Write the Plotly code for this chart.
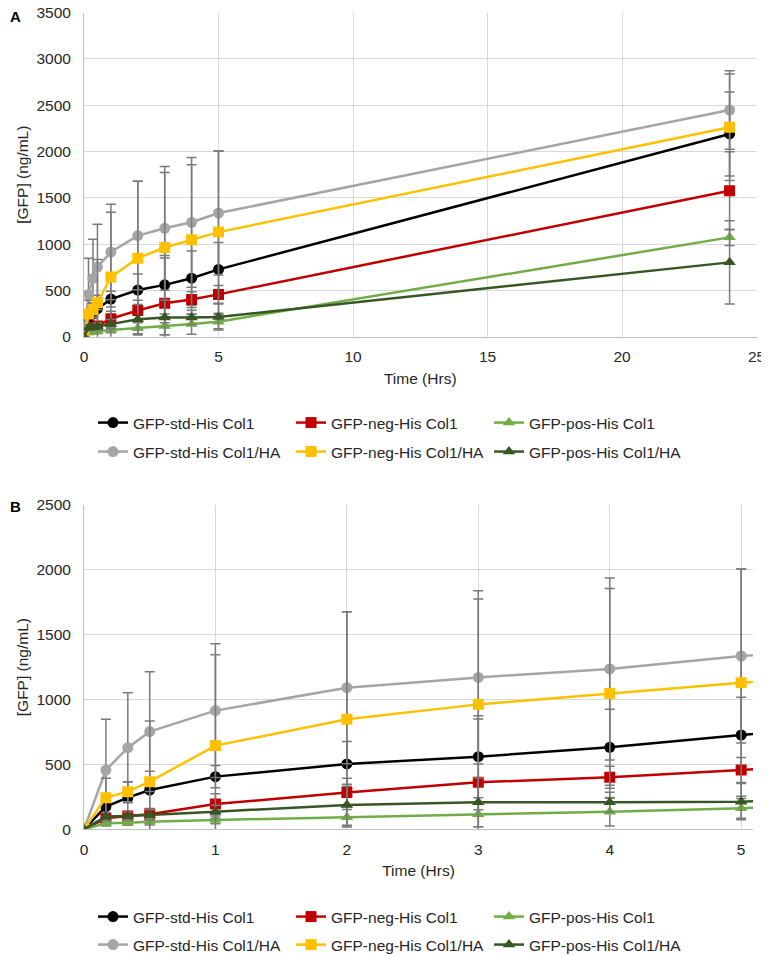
import plotly.graph_objects as go

# sampling times (hours)
time_hrs = [0, 1 / 6, 1 / 3, 0.5, 1, 2, 3, 4, 5, 24]

series_names = [
    "GFP-std-His Col1", "GFP-neg-His Col1", "GFP-pos-His Col1",
    "GFP-std-His Col1/HA", "GFP-neg-His Col1/HA", "GFP-pos-His Col1/HA",
]

# mean [GFP] (ng/mL)
std_col1 = [0, 175, 244, 303, 406, 504, 560, 632, 727, 2190]
neg_col1 = [0, 85, 103, 116, 195, 283, 362, 401, 457, 1577]
pos_col1 = [0, 46, 51, 59, 72, 92, 116, 136, 162, 1073]
std_col1_ha = [0, 457, 629, 753, 915, 1092, 1171, 1236, 1336, 2449]
neg_col1_ha = [0, 244, 290, 367, 645, 848, 963, 1048, 1130, 2262]
pos_col1_ha = [0, 98, 103, 110, 136, 188, 208, 208, 213, 803]

# standard deviations
std_col1_sd = [0, 60, 120, 144, 85, 172, 316, 293, 290, 453]
neg_col1_sd = [0, 30, 35, 45, 80, 110, 488, 85, 97, 422]
pos_col1_sd = [0, 20, 20, 25, 30, 60, 96, 110, 76, 87]
std_col1_ha_sd = [0, 391, 424, 462, 516, 586, 668, 701, 670, 424]
neg_col1_ha_sd = [0, 150, 77, 468, 700, 830, 812, 809, 876, 576]
pos_col1_ha_sd = [0, 30, 30, 40, 50, 160, 188, 77, 140, 450]

means = [std_col1, neg_col1, pos_col1, std_col1_ha, neg_col1_ha, pos_col1_ha]
sds = [std_col1_sd, neg_col1_sd, pos_col1_sd, std_col1_ha_sd, neg_col1_ha_sd, pos_col1_ha_sd]
colors = ['#000000', '#c00000', '#70ad47', '#a5a5a5', '#ffc000', '#375623']
symbols = ['circle', 'square', 'triangle-up', 'circle', 'square', 'triangle-up']

FONT = "Liberation Sans, Arial, sans-serif"
FS = 15.5
# the page body adds an 8 px margin, so the figure is a bit smaller than the window
OFF = 8
W, H = 769 - OFF, 956 - OFF

fig = go.Figure()

# panel A: x/y, legends 1 (row 1) and 3 (row 2); panel B: x2/y2, legends 2 and 4
for xa, ya, legs in [('x', 'y', ('legend', 'legend3')), ('x2', 'y2', ('legend2', 'legend4'))]:
    for i, (name, y, sd, c, s) in enumerate(zip(series_names, means, sds, colors, symbols)):
        fig.add_trace(go.Scatter(
            x=time_hrs, y=y, name=name, xaxis=xa, yaxis=ya, legend=legs[i // 3],
            mode='lines+markers',
            line=dict(color=c, width=2.5),
            marker=dict(color=c, symbol=s, size=11),
            error_y=dict(type='data', array=sd, visible=True,
                         color='#7a7a7a', thickness=1.5, width=5),
        ))


def px_x(v):
    # page pixel -> paper fraction
    return (v - OFF) / W


def px_y(v):
    return 1 - (v - OFF) / H


axis_common = dict(
    showgrid=True, gridcolor='#d9d9d9', gridwidth=1,
    zeroline=False, showline=True, linecolor='#bfbfbf', linewidth=1,
    ticks='', tickfont=dict(size=FS, color='#262626'), automargin=False,
    ticklabeloverflow='allow',
)
xtitle = dict(text='Time (Hrs)', standoff=8, font=dict(size=FS))
ytitle = dict(text='[GFP] (ng/mL)', standoff=3, font=dict(size=FS))


def legend_at(center):
    return dict(orientation='h', x=px_x(93), y=px_y(center - 17), xanchor='left', yanchor='top',
                entrywidth=153, entrywidthmode='pixels', font=dict(size=FS),
                bgcolor='rgba(0,0,0,0)')


fig.update_layout(
    width=W, height=H,
    margin=dict(l=0, r=0, t=0, b=0, autoexpand=False),
    paper_bgcolor='white', plot_bgcolor='white',
    font=dict(family=FONT, size=FS, color='#262626'),
    xaxis=dict(domain=[px_x(84), px_x(756.5)], range=[0, 25], dtick=5,
               anchor='y', title=xtitle, ticklabelstandoff=6, **axis_common),
    yaxis=dict(domain=[px_y(336.7), px_y(12.7)], range=[0, 3500], dtick=500,
               anchor='x', title=ytitle, ticklabelstandoff=9, **axis_common),
    xaxis2=dict(domain=[px_x(84), px_x(753)], range=[0, 5.09], dtick=1,
                anchor='y2', title=xtitle, ticklabelstandoff=6, **axis_common),
    yaxis2=dict(domain=[px_y(829.3), px_y(505)], range=[0, 2500], dtick=500,
                anchor='x2', title=ytitle, ticklabelstandoff=9, **axis_common),
    legend=legend_at(423),
    legend3=legend_at(452),
    legend2=legend_at(917),
    legend4=legend_at(945),
    showlegend=True,
)

# panel letters
fig.add_annotation(text='<b>A</b>', x=0, y=1, xref='paper', yref='paper',
                   xanchor='left', yanchor='top', yshift=2, showarrow=False,
                   font=dict(size=15, color='#000'))
fig.add_annotation(text='<b>B</b>', x=0, y=px_y(506), xref='paper', yref='paper',
                   xanchor='left', yanchor='middle', showarrow=False,
                   font=dict(size=15, color='#000'))

fig.write_html("out.html")
